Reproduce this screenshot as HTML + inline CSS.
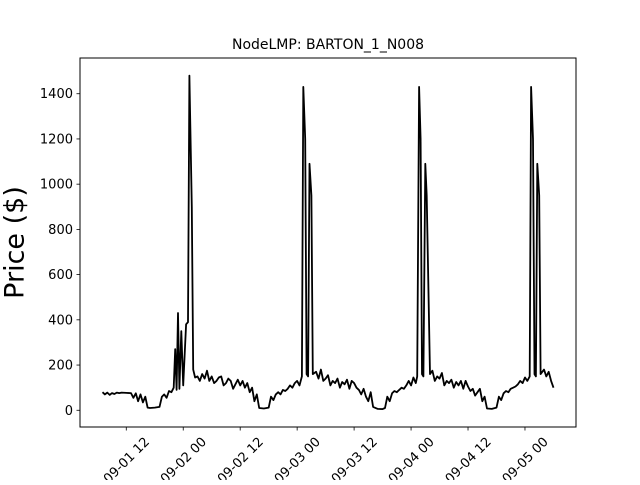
<!DOCTYPE html>
<html><head><meta charset="utf-8"><style>
body{margin:0;background:#fff;}
svg{font-family:"DejaVu Sans","Liberation Sans",sans-serif;}
</style></head><body>
<svg id="c" width="640" height="480"></svg>
<script>
const hours=[7,7.5,8,8.5,9,9.5,10,10.5,11,12,13,13.5,14,14.5,15,15.5,16,16.5,17,18,19,19.5,20,20.5,21,21.5,22,22.3,22.6,22.9,23.2,23.6,24,24.6,25,25.3,25.8,26.1,26.5,27,27.5,28,28.5,29,29.5,30,30.5,31,31.5,32,32.5,33,33.5,34,34.5,35,35.5,36,36.5,37,37.5,38,38.5,39,39.5,40,41,42,42.5,43,43.5,44,44.5,45,45.5,46,46.5,47,47.5,48,48.5,49,49.3,49.7,50,50.3,50.6,51,51.3,52,52.5,53,53.5,54,54.5,55,55.5,56,56.5,57,57.5,58,58.5,59,59.5,60,60.5,61,61.5,62,62.5,63,63.5,64,65,66,66.5,67,67.5,68,68.5,69,69.5,70,70.5,71,71.5,72,72.5,73,73.3,73.7,74,74.3,74.6,75,75.3,76,76.5,77,77.5,78,78.5,79,79.5,80,80.5,81,81.5,82,82.5,83,83.5,84,84.5,85,85.5,86,86.5,87,87.5,88,89,90,90.5,91,91.5,92,92.5,93,93.5,94,94.5,95,95.5,96,96.5,97,97.3,97.7,98,98.3,98.6,99,99.3,100,100.5,101,101.5,102];
const prices=[80,70,78,68,76,72,78,76,78,77,76,55,75,40,70,35,60,12,10,12,15,60,70,55,85,80,100,270,90,430,95,350,110,380,390,1480,900,180,145,150,130,160,140,175,130,150,120,130,145,150,110,120,140,130,95,115,135,110,130,100,120,80,100,40,70,10,8,12,60,45,70,80,70,90,85,95,110,100,120,130,110,150,1430,1200,160,150,1090,950,160,170,140,180,130,140,155,110,130,120,140,100,125,115,135,95,130,120,100,90,70,95,60,40,80,15,6,5,10,60,40,75,85,80,90,100,95,110,130,110,145,120,150,1430,1200,160,150,1090,950,160,175,130,150,140,165,110,130,120,135,100,125,110,130,95,130,105,85,95,65,80,95,40,60,8,6,12,60,45,75,85,80,95,100,105,115,130,120,145,130,150,1430,1200,160,150,1090,950,160,180,150,170,130,100];
const yTicks=[0,200,400,600,800,1000,1200,1400];
const xTickHours=[12,24,36,48,60,72,84,96];
const xTickLabels=["09-01 12","09-02 00","09-02 12","09-03 00","09-03 12","09-04 00","09-04 12","09-05 00"];
const NS="http://www.w3.org/2000/svg";
const svg=document.getElementById('c');
const L=80,R=576,T=58,B=427,h0=2.25,h1=106.75,v0=-74,v1=1558;
const X=h=>L+(h-h0)*(R-L)/(h1-h0);
const Y=v=>B-(v-v0)*(B-T)/(v1-v0);
function mk(t,a){const e=document.createElementNS(NS,t);for(const k in a)e.setAttribute(k,a[k]);svg.appendChild(e);return e;}
let d=hours.map((h,i)=>(i?'L':'M')+X(h).toFixed(1)+','+Y(prices[i]).toFixed(1)).join('');
const line=mk('path',{d:d,fill:'none',stroke:'#000','stroke-width':1.8,'stroke-linejoin':'round'});


const frame=mk('rect',{x:L,y:T,width:R-L,height:B-T,fill:'none',stroke:'#000','stroke-width':1});


yTicks.forEach(v=>{
  const y=Y(v);
  const tk=mk('line',{x1:L-3.5,x2:L,y1:y,y2:y,stroke:'#000','stroke-width':0.8});
  
  
  const t=mk('text',{x:L-7,y:y+4.5,'text-anchor':'end','font-size':13});
  t.textContent=v;
  
  
});
xTickHours.forEach((h,i)=>{
  const x=X(h);
  const tk=mk('line',{x1:x,x2:x,y1:B,y2:B+3.5,stroke:'#000','stroke-width':0.8});
  
  
  const cy=460;
  const t=mk('text',{x:x,y:cy+4.5,'text-anchor':'middle','font-size':13,transform:`rotate(-45 ${x} ${cy})`});
  t.textContent=xTickLabels[i];
  
  
});
const ti=mk('text',{x:(L+R)/2,y:49,'text-anchor':'middle','font-size':14});
ti.textContent='NodeLMP: BARTON_1_N008';


const yl=mk('text',{x:14,y:(T+B)/2,'text-anchor':'middle','font-size':27,transform:`rotate(-90 14 ${(T+B)/2})`,dy:'0.35em'});
yl.textContent='Price ($)';


</script>
</body></html>
